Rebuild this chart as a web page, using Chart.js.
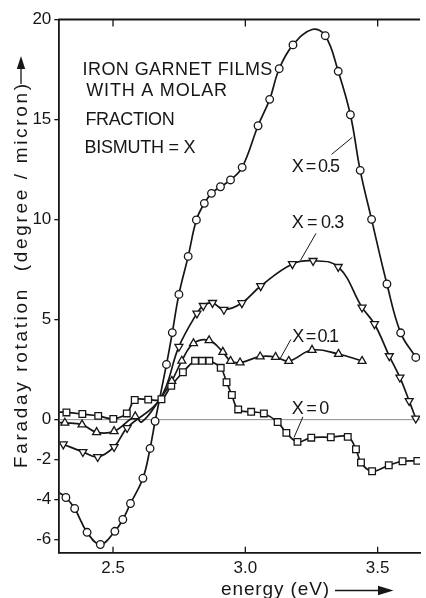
<!DOCTYPE html>
<html>
<head>
<meta charset="utf-8">
<script src="https://cdn.jsdelivr.net/npm/chart.js@4/dist/chart.umd.min.js"></script>
<style>
  html, body { margin: 0; padding: 0; background: #fff; }
  #wrap { position: relative; width: 426px; height: 598px; }
</style>
</head>
<body>
<div id="wrap"><canvas id="c" width="426" height="598"></canvas></div>
<script>
// Faraday rotation of Bi-substituted iron garnet films against photon energy.

const xTicks = [2.5, 3.0, 3.5];
const xTickLabels = ['2.5', '3.0', '3.5'];
const yTicks = [-6, -4, -2, 0, 5, 10, 15, 20];

const seriesNames = ['X = 0.5', 'X = 0.3', 'X = 0.1', 'X = 0'];

// X = 0.5 (open circles): measured points, energy in eV and rotation in deg/micron
const e05 = [2.322, 2.355, 2.402, 2.452, 2.507, 2.537, 2.566, 2.613, 2.640, 2.659,
             2.702, 2.724, 2.749, 2.784, 2.815, 2.845, 2.872, 2.906, 2.944, 2.988,
             3.048, 3.092, 3.128, 3.180, 3.302, 3.351, 3.397, 3.434, 3.477, 3.535,
             3.587, 3.644];
const r05 = [-3.89, -4.44, -5.63, -6.24, -5.58, -4.99, -4.19, -2.93, -1.44, -0.08,
             2.76, 4.35, 6.26, 8.16, 9.98, 10.81, 11.31, 11.64, 11.98, 12.61,
             14.69, 16.01, 17.54, 18.73, 19.19, 17.41, 15.24, 12.46, 10.01, 6.78,
             4.34, 3.11];
// extra knots of the fitted curve: start at the left axis, and its maximum
const e05Curve = [2.297, 3.252];
const r05Curve = [-3.65, 19.5];

// X = 0.3 (open down-triangles)
const e03 = [2.312, 2.386, 2.442, 2.504, 2.553, 2.749, 2.817, 2.841, 2.876, 2.919,
             2.987, 3.058, 3.178, 3.256, 3.351, 3.441, 3.488, 3.544, 3.584, 3.619,
             3.644];
const r03 = [-1.23, -1.61, -1.86, -1.36, -0.41, 3.65, 5.31, 5.69, 5.84, 5.50,
             5.83, 6.68, 7.78, 7.94, 7.64, 5.61, 4.78, 3.18, 2.11, 0.94,
             0.06];
const e03Curve = [2.297, 2.677];
const r03Curve = [-1.15, 1.02];

// X = 0.1 (open up-triangles)
const e01 = [2.318, 2.383, 2.438, 2.504, 2.584, 2.722, 2.760, 2.804, 2.863, 2.915,
             2.944, 2.980, 3.056, 3.114, 3.164, 3.252, 3.352, 3.441];
const r01 = [-0.16, -0.25, -0.63, -0.58, 0.16, 1.93, 2.94, 3.81, 3.96, 3.38,
             2.93, 2.85, 3.15, 3.13, 2.93, 3.48, 3.28, 2.93];
const e01Curve = [2.297, 2.608, 2.677];
const r01Curve = [-0.15, -0.12, 1.02];

// X = 0 (open squares)
const e00 = [2.324, 2.384, 2.444, 2.501, 2.552, 2.582, 2.633, 2.683, 2.720, 2.764,
             2.810, 2.837, 2.864, 2.907, 2.929, 2.949, 2.973, 3.022, 3.070, 3.122,
             3.155, 3.197, 3.249, 3.323, 3.387, 3.418, 3.437, 3.479, 3.542, 3.594,
             3.650];
const r00 = [0.36, 0.28, 0.19, 0.04, 0.31, 0.98, 1.00, 1.02, 1.69, 2.37,
             2.94, 2.94, 2.94, 2.59, 1.87, 1.23, 0.51, 0.39, 0.31, -0.12,
             -0.66, -1.11, -0.90, -0.88, -0.86, -1.48, -2.14, -2.58, -2.28, -2.08,
             -2.06];
const e00Curve = [2.297];
const r00Curve = [0.38];

const INK = '#161616';
const FONT = '"Liberation Sans", Arial, sans-serif';

function points(e, v) {
  return e.map((x, i) => ({ x: x, y: v[i] }));
}
function curve(e, v, ce, cv) {
  return points(e, v).concat(points(ce, cv)).sort((a, b) => a.x - b.x);
}

const series = [
  { e: e05, v: r05, ce: e05Curve, cv: r05Curve, marker: 'circle',   radius: 3.8, rotation: 0 },
  { e: e03, v: r03, ce: e03Curve, cv: r03Curve, marker: 'triangle', radius: 4.6, rotation: 180 },
  { e: e01, v: r01, ce: e01Curve, cv: r01Curve, marker: 'triangle', radius: 4.6, rotation: 0 },
  { e: e00, v: r00, ce: e00Curve, cv: r00Curve, marker: 'rect',     radius: 4.7, rotation: 0 }
];

const datasets = [];
series.forEach((s, i) => {
  datasets.push({
    label: seriesNames[i],
    data: curve(s.e, s.v, s.ce, s.cv),
    showLine: true,
    tension: 0.4,
    borderColor: INK,
    borderWidth: 1.7,
    pointRadius: 0,
    pointHoverRadius: 0,
    fill: false,
    order: 2
  });
  datasets.push({
    label: seriesNames[i] + ' points',
    data: points(s.e, s.v),
    showLine: false,
    pointStyle: s.marker,
    pointRotation: s.rotation,
    pointRadius: s.radius,
    pointBorderWidth: 1.3,
    pointBorderColor: INK,
    pointBackgroundColor: '#fff',
    order: 1
  });
});

// Caption block and curve labels, placed in data coordinates (energy, rotation)
const captionLines = ['IRON GARNET FILMS', 'WITH A MOLAR', 'FRACTION', 'BISMUTH = X'];
const captionPlace = [
  { x0: 2.385, x1: 3.102, y: 17.24 },
  { x0: 2.399, x1: 2.931, y: 16.155 },
  { x0: 2.396, x1: 2.733, y: 14.73 },
  { x0: 2.392, x1: 2.812, y: 13.32 }
];
const labelPlace = [
  { x0: 3.1755, x1: 3.3576, y: 12.37, lead: [3.326, 13.26, 3.404, 14.11] },
  { x0: 3.1755, x1: 3.3736, y: 9.57,  lead: [3.267, 9.31, 3.209, 7.975] },
  { x0: 3.1777, x1: 3.3539, y: 3.905, lead: [3.172, 4.01, 3.132, 3.06] },
  { x0: 3.1755, x1: 3.3167, y: 0.29,  lead: [3.2175, 0.14, 3.184, -0.89] }
];

// Draw a string so that it runs from x0 to x1, spreading the letters evenly
function spread(ctx, text, x0, x1, yb) {
  const chars = Array.from(text);
  const widths = chars.map(c => ctx.measureText(c).width);
  const total = widths.reduce((a, b) => a + b, 0);
  const gap = chars.length > 1 ? (x1 - x0 - total) / (chars.length - 1) : 0;
  let x = x0;
  chars.forEach((c, i) => {
    ctx.fillText(c, x, yb);
    x += widths[i] + gap;
  });
}

const decor = {
  id: 'decor',
  beforeDatasetsDraw(chart) {
    const { ctx, chartArea: a, scales: { y } } = chart;
    const y0 = y.getPixelForValue(0);
    ctx.save();
    ctx.strokeStyle = '#8c8c8c';
    ctx.lineWidth = 1;
    ctx.beginPath();
    ctx.moveTo(a.left, y0);
    ctx.lineTo(a.right, y0);
    ctx.stroke();
    ctx.restore();
  },
  afterDraw(chart) {
    const { ctx, chartArea: a, scales: { x, y } } = chart;
    ctx.save();
    ctx.strokeStyle = INK;
    ctx.fillStyle = INK;

    // upper frame line
    ctx.lineWidth = 1.8;
    ctx.beginPath();
    ctx.moveTo(a.left - 0.9, a.top);
    ctx.lineTo(a.right, a.top);
    ctx.stroke();

    // energy ticks pointing into the plot, top and bottom
    ctx.lineWidth = 1.3;
    xTicks.forEach(v => {
      const px = x.getPixelForValue(v);
      ctx.beginPath();
      ctx.moveTo(px, a.top);
      ctx.lineTo(px, a.top + 7);
      ctx.moveTo(px, a.bottom);
      ctx.lineTo(px, a.bottom - 6);
      ctx.stroke();
    });

    // caption
    ctx.font = '18px ' + FONT;
    ctx.textBaseline = 'alphabetic';
    ctx.textAlign = 'left';
    captionLines.forEach((t, i) => {
      const p = captionPlace[i];
      spread(ctx, t, x.getPixelForValue(p.x0), x.getPixelForValue(p.x1), y.getPixelForValue(p.y));
    });

    // curve labels with leader lines
    ctx.lineWidth = 1;
    seriesNames.forEach((t, i) => {
      const p = labelPlace[i];
      spread(ctx, t, x.getPixelForValue(p.x0), x.getPixelForValue(p.x1), y.getPixelForValue(p.y));
      ctx.beginPath();
      ctx.moveTo(x.getPixelForValue(p.lead[0]), y.getPixelForValue(p.lead[1]));
      ctx.lineTo(x.getPixelForValue(p.lead[2]), y.getPixelForValue(p.lead[3]));
      ctx.stroke();
    });

    // vertical axis title with arrow
    ctx.font = '19px ' + FONT;
    ctx.save();
    ctx.translate(26.5, 468);
    ctx.rotate(-Math.PI / 2);
    spread(ctx, 'Faraday rotation  (degree / micron)', 0, 384, 0);
    ctx.restore();
    ctx.lineWidth = 1.3;
    ctx.beginPath();
    ctx.moveTo(21, 84);
    ctx.lineTo(21, 66);
    ctx.stroke();
    ctx.beginPath();
    ctx.moveTo(21, 56);
    ctx.lineTo(16.8, 69);
    ctx.lineTo(25.2, 69);
    ctx.closePath();
    ctx.fill();

    // horizontal axis title with arrow
    spread(ctx, 'energy (eV)', 221, 329, 595);
    ctx.beginPath();
    ctx.moveTo(335, 590.5);
    ctx.lineTo(381, 590.5);
    ctx.stroke();
    ctx.beginPath();
    ctx.moveTo(393.5, 590.5);
    ctx.lineTo(378, 585.8);
    ctx.lineTo(378, 595.2);
    ctx.closePath();
    ctx.fill();

    ctx.restore();
  }
};

new Chart(document.getElementById('c'), {
  type: 'scatter',
  data: { datasets: datasets },
  options: {
    responsive: false,
    devicePixelRatio: 1,
    animation: false,
    layout: { padding: { top: 19.5, right: 0, bottom: 0, left: 0 } },
    plugins: {
      legend: { display: false },
      tooltip: { enabled: false },
      title: { display: false }
    },
    scales: {
      x: {
        type: 'linear',
        min: 2.297,
        max: 3.66,
        afterBuildTicks: s => { s.ticks = xTicks.map(v => ({ value: v })); },
        afterFit: s => { s.height = 45.3; },
        ticks: {
          callback: (v, i) => xTickLabels[i],
          font: { family: FONT, size: 17 },
          color: INK,
          padding: 5,
          maxRotation: 0,
          autoSkip: false
        },
        grid: { display: false, drawTicks: false },
        border: { display: true, color: INK, width: 1.8 }
      },
      y: {
        type: 'linear',
        min: -6.65,
        max: 20,
        afterBuildTicks: s => { s.ticks = yTicks.map(v => ({ value: v })); },
        afterFit: s => { s.width = 59.3; },
        ticks: {
          callback: v => String(v),
          font: { family: FONT, size: 17 },
          color: INK,
          padding: 3,
          autoSkip: false
        },
        grid: { display: true, drawOnChartArea: false, drawTicks: true, tickLength: 5, color: INK, lineWidth: 1.3 },
        border: { display: true, color: INK, width: 1.8 }
      }
    }
  },
  plugins: [decor]
});
</script>
</body>
</html>
